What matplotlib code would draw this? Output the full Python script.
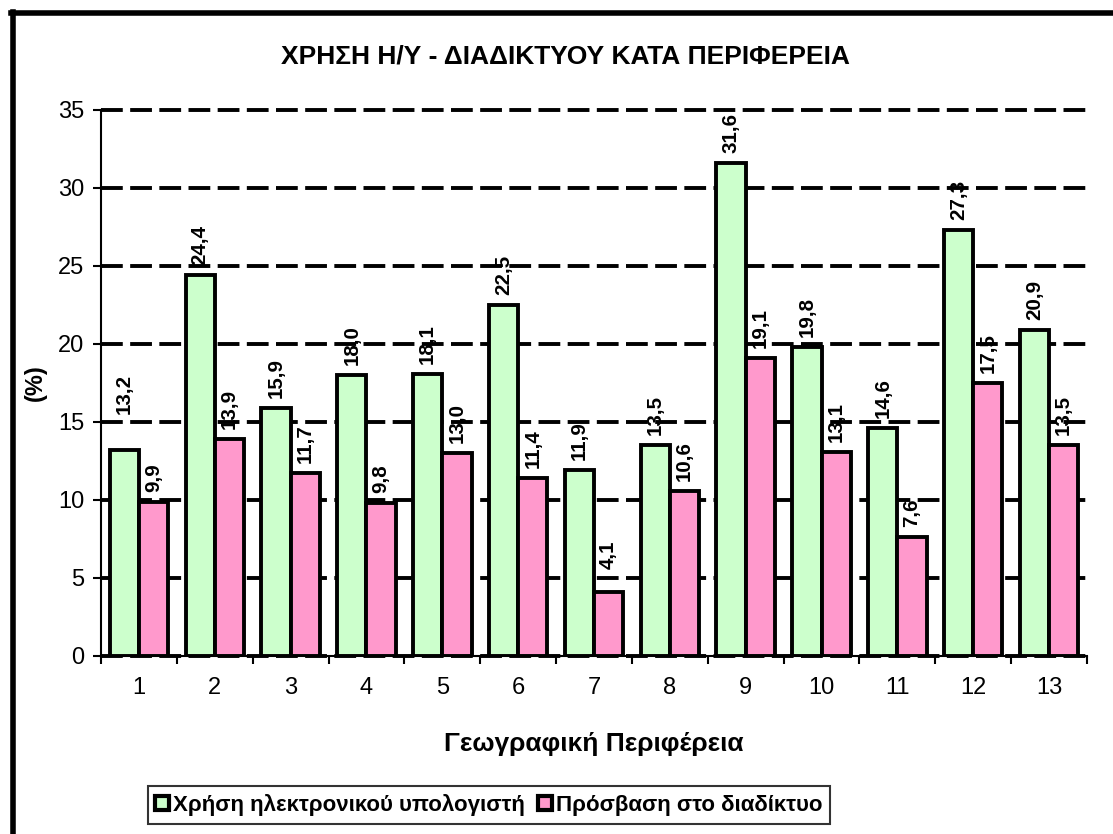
import numpy as np
import matplotlib
matplotlib.use("Agg")
import matplotlib.pyplot as plt
from matplotlib.lines import Line2D
from matplotlib.patches import Patch

plt.rcParams['font.family'] = ['Liberation Sans', 'DejaVu Sans']

regions = [str(i) for i in range(1, 14)]
pc_use = [13.2, 24.4, 15.9, 18.0, 18.1, 22.5, 11.9, 13.5, 31.6, 19.8, 14.6, 27.3, 20.9]
internet = [9.9, 13.9, 11.7, 9.8, 13.0, 11.4, 4.1, 10.6, 19.1, 13.1, 7.6, 17.5, 13.5]
series_names = ["Χρήση ηλεκτρονικού υπολογιστή", "Πρόσβαση στο διαδίκτυο"]

green = "#CCFFCC"
pink = "#FF99CC"

# a couple of labels sit further above their bars in the original
extra_gap = {(0, 0): 26, (1, 6): 13}

W, H = 1113, 834
fig = plt.figure(figsize=(W / 100, H / 100), dpi=100)
ax = fig.add_axes([101 / W, 1 - 656 / H, (1087 - 101) / W, (656 - 110) / H])

x = np.arange(len(regions))
bw = 0.385
bars1 = ax.bar(x - bw / 2, pc_use, bw, color=green, edgecolor="black",
               linewidth=2.8, zorder=3)
bars2 = ax.bar(x + bw / 2, internet, bw, color=pink, edgecolor="black",
               linewidth=2.8, zorder=3)

for si, (bars, vals) in enumerate(((bars1, pc_use), (bars2, internet))):
    for i, (b, v) in enumerate(zip(bars, vals)):
        gap_px = 10 + extra_gap.get((si, i), 0)
        ax.annotate(f"{v:.1f}".replace(".", ","),
                    (b.get_x() + b.get_width() / 2, v),
                    xytext=(0, gap_px * 0.72), textcoords="offset points",
                    rotation=90, ha="center", va="bottom",
                    fontsize=14.8, fontweight="bold", zorder=4)

ax.set_xlim(-0.5, len(regions) - 0.5)
ax.set_ylim(0, 35)
ax.set_yticks(range(0, 36, 5))
ax.set_xticks(x)
ax.set_xticklabels(regions)
ax.set_xticks(np.arange(-0.5, len(regions)), minor=True)
ax.tick_params(axis="x", which="major", length=0, pad=15, labelsize=17)
ax.tick_params(axis="x", which="minor", length=6, width=1.5, direction="out")
ax.tick_params(axis="y", length=6, width=1.5, direction="out", labelsize=17, pad=6)

ax.yaxis.grid(True, color="black", linewidth=2.8, linestyle=(0, (5.6, 1.9)), zorder=1)
for gl in ax.get_ygridlines():
    gl.set_clip_on(False)
ax.set_axisbelow(True)
for s in ("top", "right"):
    ax.spines[s].set_visible(False)
ax.spines["left"].set_linewidth(1.5)
ax.spines["bottom"].set_linewidth(1.5)
ax.spines["bottom"].set_zorder(5)

ax.set_xlabel("Γεωγραφική Περιφέρεια", fontsize=19, fontweight="bold", labelpad=24)
ax.set_ylabel("(%)", fontsize=17, fontweight="bold", labelpad=8)
fig.text(565 / W, 1 - 57 / H, "ΧΡΗΣΗ Η/Υ - ΔΙΑΔΙΚΤΥΟΥ ΚΑΤΑ ΠΕΡΙΦΕΡΕΙΑ",
         ha="center", va="center", fontsize=19, fontweight="bold")

handles = [Patch(facecolor=green, edgecolor="black", linewidth=3),
           Patch(facecolor=pink, edgecolor="black", linewidth=3)]
leg = fig.legend(handles, series_names, loc="center", ncol=2,
                 bbox_to_anchor=(489 / W, 1 - 805 / H), frameon=True,
                 fancybox=False, edgecolor="black", handlelength=0.6,
                 handleheight=0.6, handletextpad=0.2, columnspacing=0.6,
                 borderpad=0.35, borderaxespad=0, prop={"size": 16, "weight": "bold"})
leg.get_frame().set_linewidth(1.5)

# outer chart frame (only left and top edges visible)
fig.add_artist(Line2D([13 / W, 13 / W], [0, 1 - 12 / H], color="black",
                      linewidth=4, transform=fig.transFigure))
fig.add_artist(Line2D([11 / W, 1], [1 - 13 / H, 1 - 13 / H], color="black",
                      linewidth=4, transform=fig.transFigure))

fig.savefig("out.png", dpi=100)
